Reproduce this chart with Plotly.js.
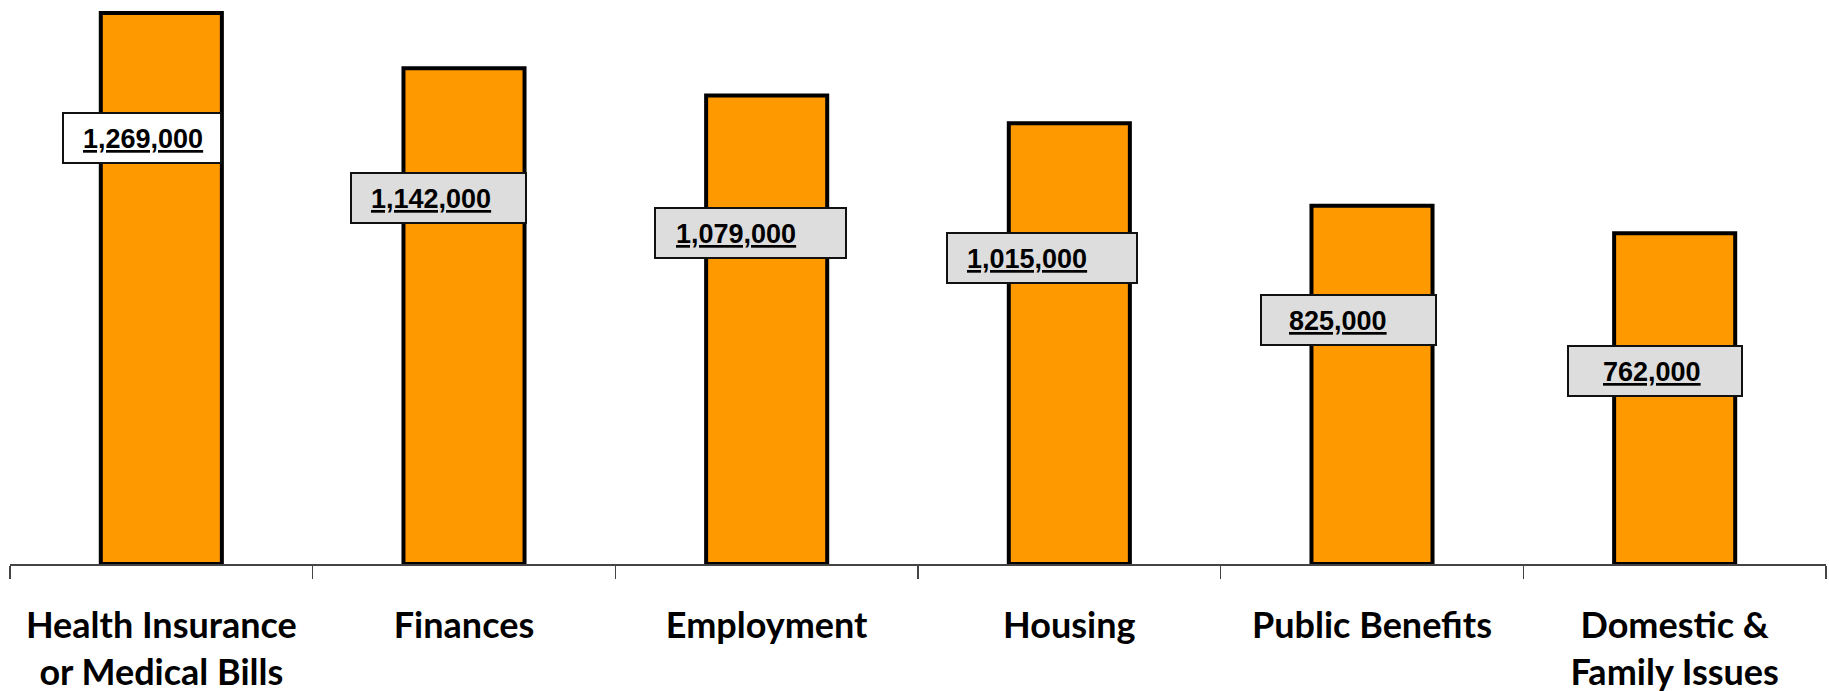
<!DOCTYPE html>
<html>
<head>
<meta charset="utf-8">
<script src="https://cdn.plot.ly/plotly-3.0.1.min.js"></script>
<style>
  html, body { margin: 0; padding: 0; background: #ffffff; }
  #chart { width: 1829px; height: 691px; }
</style>
</head>
<body>
<div id="chart"></div>
<script>
// ---- data ----
const categories = [
  "Health Insurance<br>or Medical Bills",
  "Finances",
  "Employment",
  "Housing",
  "Public Benefits",
  "Domestic &<br>Family Issues"
];
const values = [1269000, 1142000, 1079000, 1015000, 825000, 762000];
const valueLabels = ["1,269,000", "1,142,000", "1,079,000", "1,015,000", "825,000", "762,000"];

// ---- label box layout (pixels, relative to bar top / category centre) ----
const boxShiftX = [-19, -25.5, -16.5, -27, -23.5, -20];
const boxShiftY = [-125, -130, -137, -135, -114, -138];
const boxWidth  = [160, 177, 193, 192, 177, 176];
const boxHeight = 52;
const boxFill   = ["#FFFFFF", "#DDDDDD", "#DDDDDD", "#DDDDDD", "#DDDDDD", "#DDDDDD"];
const textPad   = [20, 20, 21, 20, 28, 35];

const annotations = [];
categories.forEach((c, i) => {
  annotations.push({
    x: c, y: values[i], xref: "x", yref: "y",
    xanchor: "center", yanchor: "middle",
    xshift: boxShiftX[i], yshift: boxShiftY[i],
    text: "&nbsp;", showarrow: false,
    width: boxWidth[i] - 4, height: boxHeight - 4,
    bgcolor: boxFill[i], bordercolor: "#111111", borderwidth: 2, borderpad: 0
  });
  annotations.push({
    x: c, y: values[i], xref: "x", yref: "y",
    xanchor: "left", yanchor: "middle",
    xshift: boxShiftX[i] - boxWidth[i] / 2 + textPad[i], yshift: boxShiftY[i] - 1,
    text: "<u><b>" + valueLabels[i] + "</b></u>", showarrow: false,
    borderpad: 0,
    font: { family: "Liberation Sans, Arial, sans-serif", size: 27, color: "#000000" }
  });
});

const trace = {
  type: "bar",
  x: categories,
  y: values,
  marker: { color: "#FF9900", line: { color: "#000000", width: 4 } },
  hoverinfo: "skip"
};

const layout = {
  width: 1829, height: 691,
  margin: { l: 10, r: 3, t: 0, b: 127 },
  paper_bgcolor: "#ffffff", plot_bgcolor: "#ffffff",
  showlegend: false,
  bargap: 0.6,
  xaxis: {
    type: "category",
    showline: true, linecolor: "#444444", linewidth: 1.5,
    ticks: "outside", tickson: "boundaries", ticklen: 13, tickwidth: 1.5, tickcolor: "#444444",
    showgrid: false, zeroline: false,
    tickfont: { family: "Lato, Carlito, Calibri, sans-serif", size: 36, color: "#000000", weight: 700 },
    ticklabelstandoff: 29,
    automargin: false
  },
  yaxis: {
    range: [0, 1299000],
    visible: false, showgrid: false, zeroline: false, fixedrange: true
  },
  annotations: annotations
};

Plotly.newPlot("chart", [trace], layout, { displayModeBar: false, staticPlot: true });
</script>
</body>
</html>
